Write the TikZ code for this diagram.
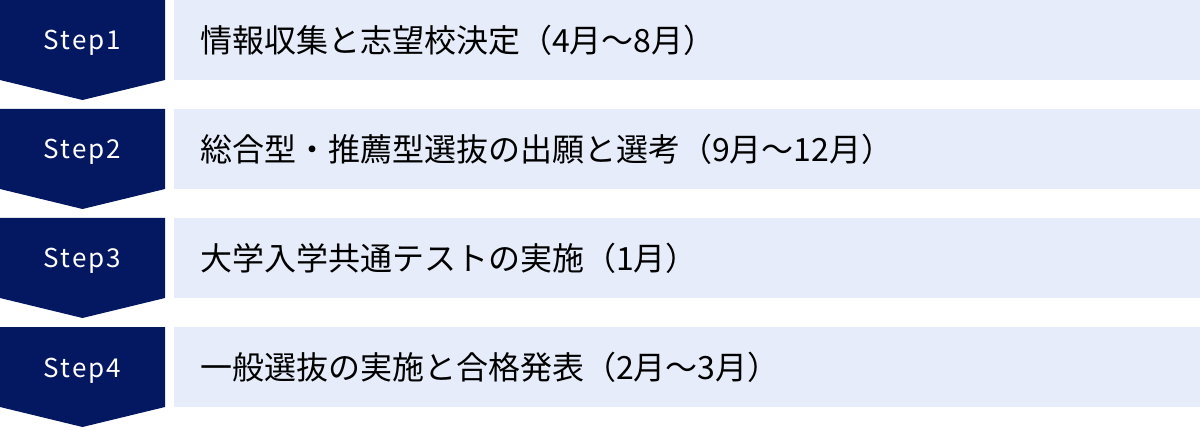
\documentclass[tikz,border=0pt]{standalone}
\usepackage{fontspec}
\setmainfont{Noto Sans CJK JP}
\newfontfamily\stepfont[LetterSpace=8]{Noto Sans CJK JP}
\usetikzlibrary{positioning}
\definecolor{stepnavy}{RGB}{4, 24, 98}
\definecolor{rowblue}{RGB}{230, 236, 249}

\begin{document}
\begin{tikzpicture}[x=1pt, y=1pt,
    stepbox/.style={fill=rowblue, minimum width=1026pt, minimum height=80pt, text width=974pt, align=left, inner xsep=26pt, inner ysep=0pt, anchor=north west, font=\fontsize{32}{38}\selectfont},
    steplabel/.style={text=white, anchor=base, font=\stepfont\fontsize{26}{30}\selectfont}]
    \useasboundingbox (0,0) rectangle (1200,429);

    % Steps
    \foreach \i/\txt in {1/{情報収集と志望校決定（4月～8月）},
                        2/{総合型・推薦型選抜の出願と選考（9月～12月）},
                        3/{大学入学共通テストの実施（1月）},
                        4/{一般選抜の実施と合格発表（2月～3月）}} {
        \pgfmathsetmacro{\rowtop}{429-109*(\i-1)}
        % Chevron
        \fill[stepnavy] (0,\rowtop) -- (165,\rowtop) -- (165,\rowtop-80) -- (82.5,\rowtop-100) -- (0,\rowtop-80) -- cycle;
        \node[steplabel] (step\i) at (82.5,\rowtop-50) {Step\i};
        % Description
        \node[stepbox] (row\i) at (174,\rowtop) {\txt};
    }
\end{tikzpicture}
\end{document}
